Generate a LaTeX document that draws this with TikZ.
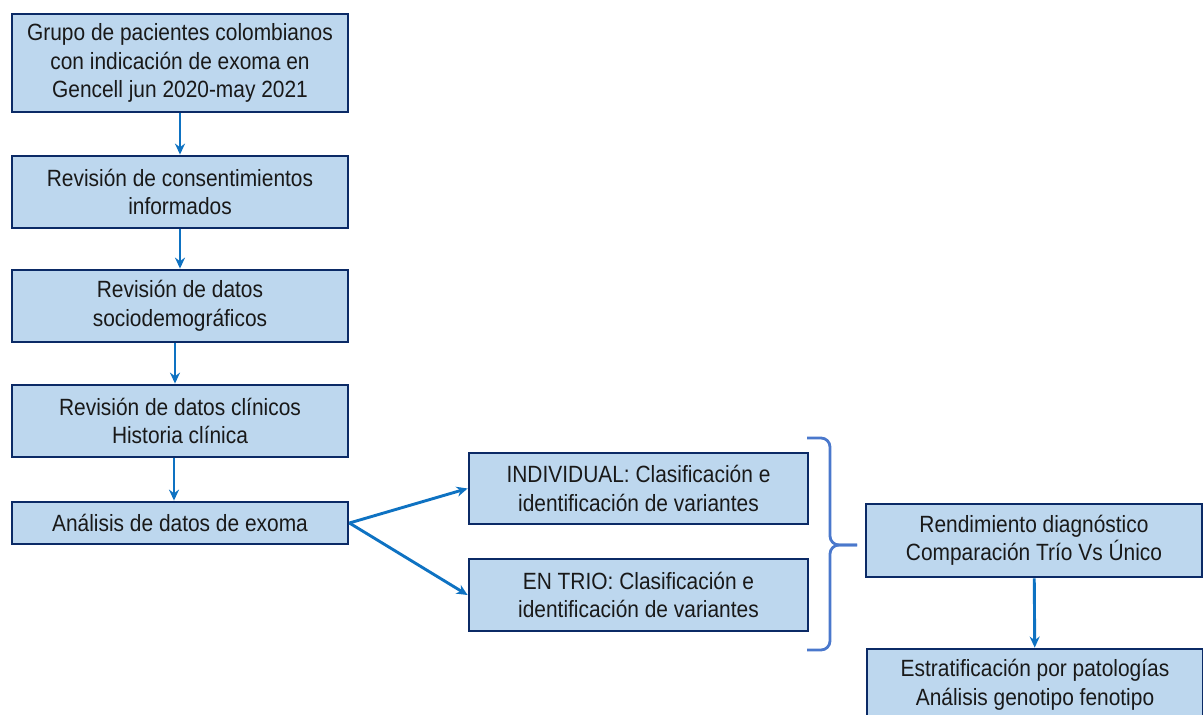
\documentclass[tikz,border=0pt]{standalone}
\usepackage{fontspec}
\setmainfont{Liberation Sans}[FakeStretch=0.89]
\usetikzlibrary{arrows.meta}
\definecolor{boxfill}{HTML}{BDD7EE}
\definecolor{boxline}{HTML}{0B2A66}
\definecolor{arrblue}{HTML}{0E72C2}
\definecolor{brcblue}{HTML}{4A78CC}
\begin{document}
\begin{tikzpicture}[
    x=1pt, y=-1pt,
    box/.style={draw=boxline, fill=boxfill, line width=2.8pt, minimum width=336pt,
                minimum height=72pt, align=center, text=black!90,
                font=\fontsize{23.5}{28.5}\selectfont, inner sep=2pt},
    arr/.style={-{Stealth[length=11pt,width=10pt]}, arrblue, line width=2.9pt},
    brc/.style={brcblue, line width=2.8pt, rounded corners=9pt}
  ]
  \clip (0,0) rectangle (1203,715);
  % Left column
  \node[box, minimum height=98pt] (grupo) at (180,63)
    {Grupo de pacientes colombianos\\con indicación de exoma en\\Gencell jun 2020-may 2021};
  \node[box] (consent) at (180,192) {Revisión de consentimientos\\informados};
  \node[box] (socio) at (180,306) {Revisión de datos\\sociodemográficos};
  \node[box] (clinic) at (180,421) {Revisión de datos clínicos\\Historia clínica};
  \node[box, minimum height=42pt] (exoma) at (180,523) {Análisis de datos de exoma};

  % Middle column
  \node[box, minimum width=339pt, minimum height=71pt] (indiv) at (638.5,488.5)
    {INDIVIDUAL: Clasificación e\\identificación de variantes};
  \node[box, minimum width=339pt] (trio) at (638.5,595)
    {EN TRIO: Clasificación e\\identificación de variantes};

  % Right column
  \node[box, minimum height=73pt] (rend) at (1034,540.5)
    {Rendimiento diagnóstico\\Comparación Trío Vs Único};
  \node[box] (estrat) at (1035,685)
    {Estratificación por patologías\\Análisis genotipo fenotipo};

  \draw[arr] (grupo) -- (consent);
  \draw[arr] (consent) -- (socio);
  \draw[arr] ([xshift=-5pt]socio.south) -- ([xshift=-5pt]clinic.north);
  \draw[arr] ([xshift=-6pt]clinic.south) -- ([xshift=-6pt]exoma.north);
  \draw[arr] (exoma.east) -- (indiv.west);
  \draw[arr] (exoma.east) -- (trio.west);
  \draw[arr] (rend) -- (estrat);

  % brace
  \draw[brc] (807,438) -| (830,545) -- (857,545);
  \draw[brc] (807,650) -| (830,545) -- (857,545);
\end{tikzpicture}
\end{document}
